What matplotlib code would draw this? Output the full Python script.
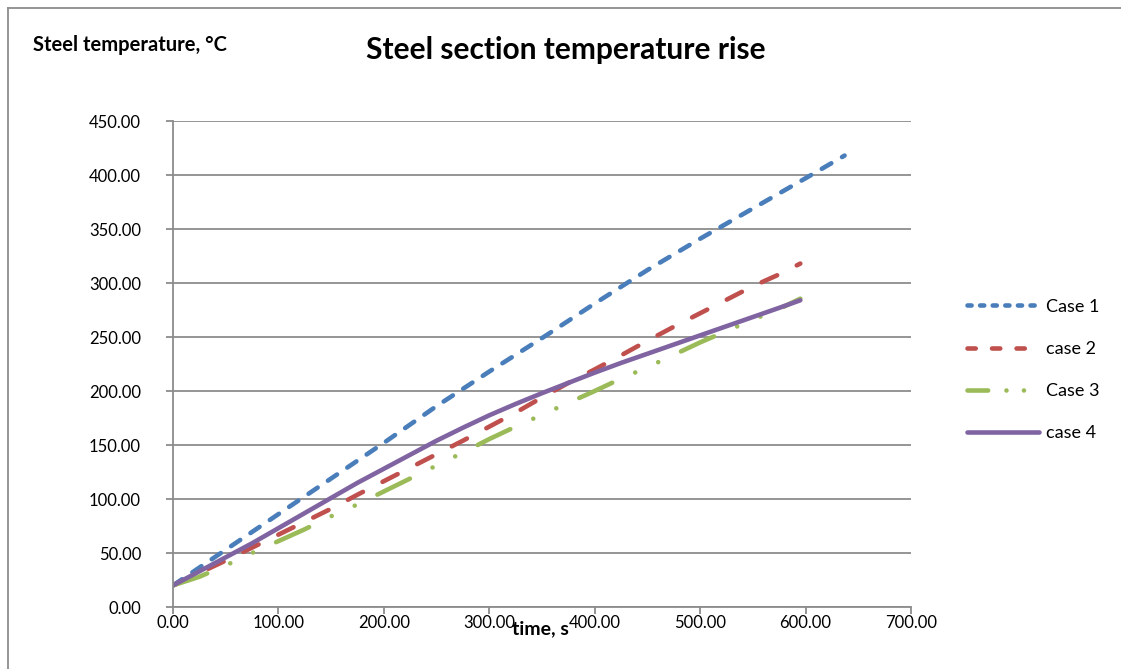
import matplotlib
matplotlib.use('Agg')
import matplotlib.pyplot as plt
from matplotlib.lines import Line2D

# ---- data ----
time_case1 = [0, 50, 100, 150, 200, 250, 300, 350, 400, 450, 500, 550, 600, 637]
case1 = [20, 53, 86, 119, 152, 186, 218, 249, 281, 312, 341, 369, 397, 418]

time_cases = [0, 25, 50, 75, 100, 125, 150, 175, 200, 225, 250, 275, 300, 325,
              350, 375, 400, 425, 450, 475, 500, 525, 550, 575, 595]
case2 = [20, 31.5, 43, 55, 67, 79, 91, 104, 116.5, 129, 141.5, 154, 167, 180,
         194, 207.5, 220, 233, 246.5, 259.5, 272, 284.5, 297, 308, 318]
case3 = [20, 28, 38.5, 50, 61, 72, 84, 95, 107, 119, 131, 143, 155.5, 167,
         178, 189, 200, 211.5, 222, 233.5, 245, 255.5, 266, 276, 285.5]
case4 = [20, 33, 46, 59, 73, 87, 101, 115, 128, 141, 154, 166, 177.5, 188,
         198, 207.5, 217, 226, 234.5, 243, 251.5, 260, 268.5, 277, 284]

labels = ["Case 1", "case 2", "Case 3", "case 4"]
colors = ["#4A7EBB", "#C0504D", "#9BBB59", "#8064A2"]
x_ticks = [0, 100, 200, 300, 400, 500, 600, 700]
y_ticks = [0, 50, 100, 150, 200, 250, 300, 350, 400, 450]

title = "Steel section temperature rise"
y_title = "Steel temperature, °C"
x_title = "time, s"

# ---- figure ----
plt.rcParams['font.family'] = ['Lato', 'DejaVu Sans']
W, H = 1121, 669
fig = plt.figure(figsize=(W / 100, H / 100), dpi=100)

ax = fig.add_axes([173 / W, 1 - 607 / H, (911 - 173) / W, (607 - 121) / H])

lw = 3.3
grid_c = "#8C8C8C"
ax.plot(time_case1, case1, color=colors[0], lw=lw, dashes=(2.4, 2.7),
        dash_capstyle='round')
ax.plot(time_cases, case2, color=colors[1], lw=lw, dashes=(3.7, 4.8),
        dash_capstyle='round')
ax.plot(time_cases, case3, color=colors[2], lw=lw, dashes=(7.9, 5.5, 0.01, 5.5, 0.01, 5.5),
        dash_capstyle='round')
ax.plot(time_cases, case4, color=colors[3], lw=lw, solid_capstyle='round')

ax.set_xlim(0, 700)
ax.set_ylim(0, 450)
ax.set_xticks(x_ticks)
ax.set_xticklabels([f"{v:.2f}" for v in x_ticks])
ax.set_yticks(y_ticks)
ax.set_yticklabels([f"{v:.2f}" for v in y_ticks])
ax.grid(axis='y', color=grid_c, lw=1.3)
ax.set_axisbelow(True)
for s in ['top', 'right']:
    ax.spines[s].set_visible(False)
for s in ['left', 'bottom']:
    ax.spines[s].set_color(grid_c)
    ax.spines[s].set_linewidth(1.3)
ax.tick_params(axis='both', direction='out', length=5, width=1.3, color=grid_c,
               labelsize=12, labelcolor='black')
ax.tick_params(axis='x', pad=1)
ax.tick_params(axis='y', pad=18)

# legend
handles = [
    Line2D([], [], color=colors[0], lw=lw, dashes=(0.9, 1.85), dash_capstyle='round'),
    Line2D([], [], color=colors[1], lw=lw, dashes=(1.8, 3.55), dash_capstyle='round'),
    Line2D([], [], color=colors[2], lw=lw, dashes=(4.5, 4.0, 0.01, 3.8, 0.01, 3.8),
           dash_capstyle='round'),
    Line2D([], [], color=colors[3], lw=lw, solid_capstyle='round'),
]
fig.legend(handles, labels, loc='center left', bbox_to_anchor=(958 / W, 1 - 370 / H),
           frameon=False, fontsize=13, handlelength=4.0, handletextpad=0.4,
           labelspacing=1.45, borderpad=0)

# texts
fig.text(566 / W, 1 - 50 / H, title, ha='center', va='center', fontsize=21.5,
         fontweight='bold')
fig.text(33 / W, 1 - 45 / H, y_title, ha='left', va='center', fontsize=14.5,
         fontweight='bold')
fig.text(540 / W, 1 - 629 / H, x_title, ha='center', va='center', fontsize=14,
         fontweight='bold')

# outer chart border (left and top visible)
fig.add_artist(Line2D([7.5 / W, 7.5 / W], [0, 1 - 7.5 / H], transform=fig.transFigure,
                      color=grid_c, lw=1.3))
fig.add_artist(Line2D([7.5 / W, 1], [1 - 7.5 / H, 1 - 7.5 / H], transform=fig.transFigure,
                      color=grid_c, lw=1.3))

fig.savefig("out.png", dpi=100, facecolor='white')
